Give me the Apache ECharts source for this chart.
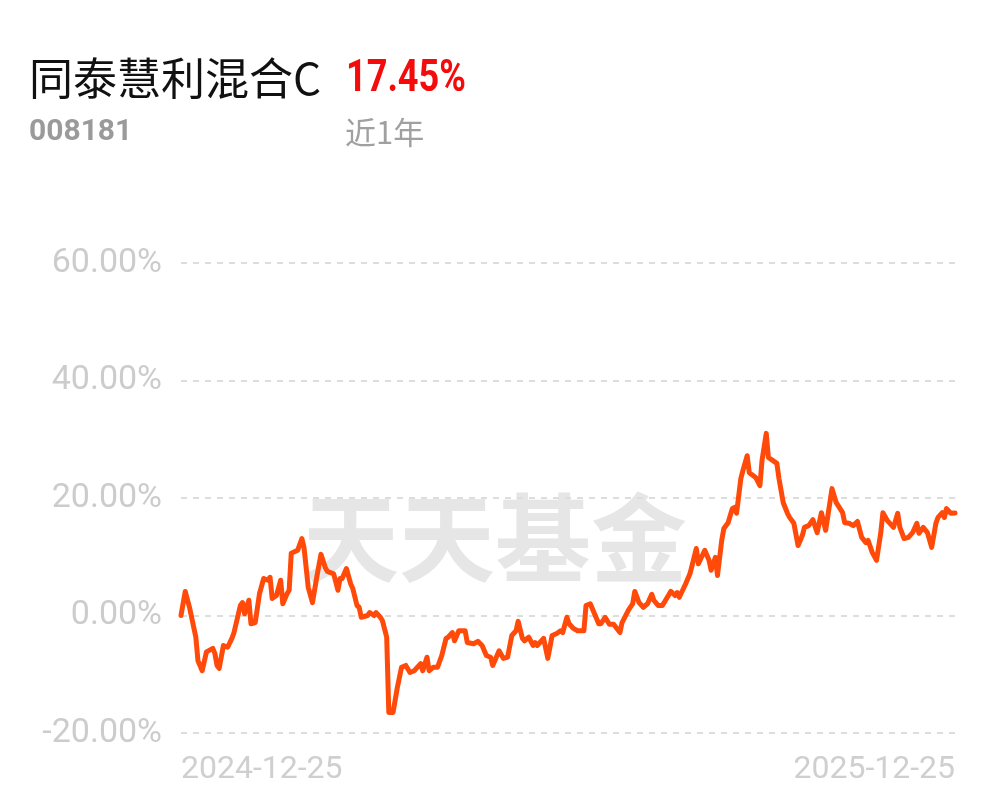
<!DOCTYPE html>
<html>
<head>
<meta charset="utf-8">
<script src="https://cdn.jsdelivr.net/npm/echarts@6/dist/echarts.min.js"></script>
<style>
html,body{margin:0;padding:0;background:#fff;}
#chart{width:997px;height:802px;}
</style>
</head>
<body>
<div id="chart"></div>
<script>
const fundName = '同泰慧利混合C';
const fundCode = '008181';
const returnText = '17.45%';
const periodText = '近1年';
const watermarkText = '天天基金';
const xLabels = ['2024-12-25', '2025-12-25'];
const yTicks = [-20, 0, 20, 40, 60];

const dates = [
'2024-12-25','2024-12-27','2024-12-29','2025-01-01','2025-01-02','2025-01-04','2025-01-06','2025-01-09','2025-01-10','2025-01-11',
'2025-01-12','2025-01-14','2025-01-16','2025-01-18','2025-01-19','2025-01-22','2025-01-23','2025-01-24','2025-01-26','2025-01-27',
'2025-01-29','2025-01-31','2025-02-02','2025-02-04','2025-02-05','2025-02-06','2025-02-08','2025-02-10','2025-02-11','2025-02-13',
'2025-02-14','2025-02-15','2025-02-18','2025-02-20','2025-02-21','2025-02-23','2025-02-25','2025-02-27','2025-03-01','2025-03-03',
'2025-03-04','2025-03-07','2025-03-09','2025-03-10','2025-03-11','2025-03-13','2025-03-15','2025-03-16','2025-03-18','2025-03-19',
'2025-03-20','2025-03-23','2025-03-24','2025-03-26','2025-03-27','2025-03-29','2025-03-30','2025-04-01','2025-04-02','2025-04-04',
'2025-04-06','2025-04-08','2025-04-10','2025-04-12','2025-04-14','2025-04-17','2025-04-18','2025-04-20','2025-04-21','2025-04-23',
'2025-04-25','2025-04-27','2025-04-29','2025-04-30','2025-05-02','2025-05-03','2025-05-05','2025-05-08','2025-05-09','2025-05-12',
'2025-05-14','2025-05-16','2025-05-18','2025-05-20','2025-05-21','2025-05-24','2025-05-26','2025-05-28','2025-05-30','2025-06-01',
'2025-06-02','2025-06-04','2025-06-05','2025-06-07','2025-06-09','2025-06-10','2025-06-11','2025-06-14','2025-06-16','2025-06-18',
'2025-06-20','2025-06-22','2025-06-23','2025-06-25','2025-06-26','2025-06-28','2025-06-30','2025-07-03','2025-07-04','2025-07-06',
'2025-07-08','2025-07-10','2025-07-11','2025-07-13','2025-07-15','2025-07-17','2025-07-20','2025-07-21','2025-07-24','2025-07-26',
'2025-07-27','2025-07-29','2025-07-31','2025-08-02','2025-08-04','2025-08-05','2025-08-07','2025-08-09','2025-08-11','2025-08-13',
'2025-08-15','2025-08-16','2025-08-17','2025-08-20','2025-08-22','2025-08-23','2025-08-25','2025-08-26','2025-08-29','2025-08-31',
'2025-09-01','2025-09-03','2025-09-04','2025-09-06','2025-09-07','2025-09-09','2025-09-11','2025-09-12','2025-09-13','2025-09-15',
'2025-09-16','2025-09-18','2025-09-19','2025-09-22','2025-09-24','2025-09-25','2025-09-27','2025-09-28','2025-09-30','2025-10-02',
'2025-10-03','2025-10-05','2025-10-07','2025-10-08','2025-10-10','2025-10-12','2025-10-14','2025-10-15','2025-10-17','2025-10-19',
'2025-10-21','2025-10-23','2025-10-25','2025-10-28','2025-10-30','2025-11-02','2025-11-03','2025-11-05','2025-11-07','2025-11-09',
'2025-11-11','2025-11-13','2025-11-14','2025-11-16','2025-11-18','2025-11-20','2025-11-21','2025-11-23','2025-11-26','2025-11-28',
'2025-11-29','2025-12-01','2025-12-03','2025-12-05','2025-12-07','2025-12-08','2025-12-10','2025-12-12','2025-12-14','2025-12-16',
'2025-12-17','2025-12-19','2025-12-20','2025-12-21','2025-12-23','2025-12-25'
];

const returns = [
0.0, 4.1, 1.4, -3.7, -7.7, -9.4, -6.2, -5.6, -6.5, -8.5,
-9.0, -5.1, -5.4, -3.9, -2.9, 1.7, 2.2, 0.3, 2.6, -1.4,
-1.2, 3.7, 6.3, 6.0, 6.5, 2.9, 3.4, 6.0, 2.0, 3.7,
4.3, 10.6, 11.1, 13.1, 11.6, 4.8, 2.2, 6.5, 10.4, 8.2,
7.5, 7.1, 4.3, 6.3, 6.3, 8.0, 5.4, 4.6, 1.7, 1.4,
-0.3, 0.0, 0.5, 0.0, 0.5, -0.3, -0.9, -3.7, -16.5, -16.5,
-12.3, -8.8, -8.5, -9.7, -9.4, -8.2, -9.4, -7.1, -9.4, -8.8,
-8.8, -6.8, -3.9, -3.7, -2.9, -4.3, -2.6, -2.6, -4.6, -4.8,
-4.4, -5.1, -6.8, -7.1, -8.5, -6.0, -7.3, -7.1, -3.4, -2.6,
-1.0, -3.9, -4.3, -3.7, -5.1, -4.6, -5.1, -3.9, -7.3, -3.4,
-3.1, -2.6, -2.9, -0.3, -1.4, -2.2, -2.6, -2.6, 1.7, 2.0,
0.3, -1.4, -1.4, -0.3, -1.5, -1.5, -2.9, -1.2, 0.9, 2.0,
4.1, 2.2, 1.4, 2.0, 3.6, 2.6, 1.7, 1.7, 2.9, 4.1,
3.4, 3.9, 3.1, 5.4, 7.1, 8.5, 11.4, 8.8, 11.1, 9.4,
7.7, 9.9, 6.8, 12.8, 14.8, 15.8, 18.2, 18.4, 17.4, 23.3,
24.7, 27.2, 24.3, 23.5, 22.1, 26.4, 31.0, 26.9, 26.4, 25.9,
23.3, 19.2, 17.4, 16.7, 15.7, 11.9, 13.6, 15.0, 15.3, 16.3,
14.1, 17.5, 14.5, 21.6, 19.2, 17.5, 15.8, 15.7, 15.3, 16.0,
13.3, 12.4, 12.8, 10.7, 9.4, 14.1, 17.5, 16.2, 15.0, 17.4,
15.0, 13.1, 13.3, 14.1, 15.7, 14.0, 15.0, 14.1, 11.6, 15.7,
16.7, 17.5, 16.7, 18.2, 17.4, 17.45
];

const toTime = (s) => Date.UTC(+s.slice(0, 4), +s.slice(5, 7) - 1, +s.slice(8, 10));
const tMin = toTime(xLabels[0]);
const tMax = toTime(xLabels[1]);
const seriesData = dates.map((d, i) => [toTime(d), returns[i]]);
const fmtDate = (v) => {
  const d = new Date(v);
  const p = (n) => (n < 10 ? '0' : '') + n;
  return d.getUTCFullYear() + '-' + p(d.getUTCMonth() + 1) + '-' + p(d.getUTCDate());
};

const chart = echarts.init(document.getElementById('chart'), null, {renderer: 'canvas'});
chart.setOption({
  animation: false,
  backgroundColor: '#ffffff',
  grid: {left: 181, right: 42, top: 263, bottom: 69, containLabel: false},
  graphic: [
    {type: 'text', x: 29, y: 78, z: 10, style: {text: fundName, font: '44px "Noto Sans CJK SC", sans-serif', fill: '#111111', verticalAlign: 'middle'}},
    {type: 'text', x: 346, y: 80, scaleX: 0.82, z: 10, style: {text: returnText, font: 'bold 44px Roboto, sans-serif', fill: '#f40c0c', verticalAlign: 'middle'}},
    {type: 'text', x: 29, y: 132, z: 10, style: {text: fundCode, font: 'bold 30px Roboto, sans-serif', fill: '#9a9a9a', verticalAlign: 'middle'}},
    {type: 'text', x: 345, y: 132, z: 10, style: {text: periodText, font: '31px "Noto Sans CJK SC", sans-serif', fill: '#a0a0a0', verticalAlign: 'middle'}},
    {type: 'text', x: 303, y: 538, z: -1, style: {text: watermarkText, font: 'bold 96px "Noto Sans CJK SC", sans-serif', fill: '#e6e6e6', verticalAlign: 'middle'}}
  ],
  xAxis: {
    type: 'value',
    min: tMin,
    max: tMax,
    axisLine: {show: false},
    axisTick: {show: false},
    splitLine: {show: false},
    axisLabel: {
      customValues: [tMin, tMax],
      formatter: (v) => fmtDate(v),
      alignMinLabel: 'left',
      alignMaxLabel: 'right',
      color: '#cfcfcf',
      fontSize: 32,
      fontFamily: 'Roboto, sans-serif',
      margin: 21
    }
  },
  yAxis: {
    type: 'value',
    min: yTicks[0],
    max: yTicks[yTicks.length - 1],
    interval: 20,
    axisLine: {show: false},
    axisTick: {show: false},
    axisLabel: {
      formatter: (v) => v.toFixed(2) + '%',
      color: '#cccccc',
      fontSize: 34,
      fontFamily: 'Roboto, sans-serif',
      margin: 19
    },
    splitLine: {lineStyle: {color: '#dddddd', type: [6, 6], width: 2}}
  },
  series: [{
    type: 'line',
    data: seriesData,
    showSymbol: false,
    smooth: false,
    z: 5,
    lineStyle: {color: '#ff4a0a', width: 5, join: 'round', cap: 'round'}
  }]
});
</script>
</body>
</html>
